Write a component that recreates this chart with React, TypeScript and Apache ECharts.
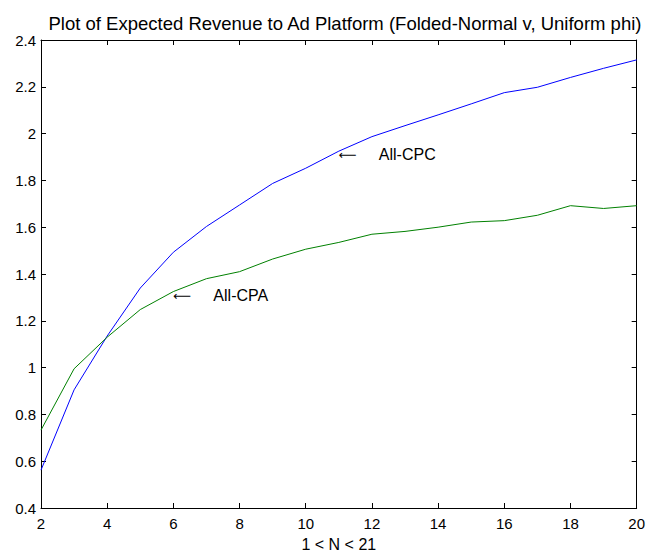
import React, { useEffect, useRef } from "react";
import * as echarts from "echarts";

const titleText = "Plot of Expected Revenue to Ad Platform (Folded-Normal v, Uniform phi)";
const xAxisName = "1 < N < 21";
const nValues = [2, 3, 4, 5, 6, 7, 8, 9, 10, 11, 12, 13, 14, 15, 16, 17, 18, 19, 20];
const allCpc = [0.562, 0.905, 1.135, 1.34, 1.493, 1.603, 1.695, 1.787, 1.852, 1.925, 1.987, 2.034, 2.08, 2.127, 2.175, 2.198, 2.24, 2.279, 2.315];
const allCpa = [0.733, 0.995, 1.13, 1.248, 1.325, 1.38, 1.41, 1.464, 1.506, 1.535, 1.57, 1.582, 1.6, 1.622, 1.628, 1.651, 1.692, 1.68, 1.692];
const cpcLabelAt = [11.0, 1.909];
const cpaLabelAt = [6.0, 1.306];
const cpcLabel = "All-CPC";
const cpaLabel = "All-CPA";

const FONT = "Liberation Sans, Arial, sans-serif";

function annotation(text: string) {
  return {
    show: true,
    position: "right",
    distance: 0,
    formatter: "{a|⟵}{t|" + text + "}",
    rich: {
      a: { fontFamily: "DejaVu Sans, sans-serif", fontSize: 12.5, color: "#000", width: 40 },
      t: { fontFamily: FONT, fontSize: 16, color: "#000" },
    },
  };
}

export default function App() {
  const ref = useRef<HTMLDivElement>(null);
  useEffect(() => {
    document.body.style.margin = "0";
    if (!ref.current) return;
    const chart = echarts.init(ref.current, undefined, { renderer: "svg" });
    const tickStyle = { show: true, inside: true, length: 5, lineStyle: { color: "#000", width: 1 } };
    const lineStyleAxis = { show: true, lineStyle: { color: "#000", width: 1 } };
    chart.setOption({
      animation: false,
      backgroundColor: "#fff",
      title: {
        text: titleText,
        left: 340,
        textAlign: "center",
        top: 9,
        textStyle: { fontFamily: FONT, fontSize: 18.5, fontWeight: "normal", color: "#000" },
      },
      grid: { left: 41, right: 11, top: 40, bottom: 52, containLabel: false },
      xAxis: [
        {
          type: "value",
          min: 2,
          max: 20,
          interval: 2,
          position: "bottom",
          name: xAxisName,
          nameLocation: "middle",
          nameGap: 28,
          nameTextStyle: { fontFamily: FONT, fontSize: 16, color: "#000" },
          axisLine: lineStyleAxis,
          axisTick: tickStyle,
          axisLabel: { fontFamily: FONT, fontSize: 15, color: "#000", margin: 8 },
          splitLine: { show: false },
        },
        {
          type: "value",
          min: 2,
          max: 20,
          interval: 2,
          position: "top",
          axisLine: lineStyleAxis,
          axisTick: tickStyle,
          axisLabel: { show: false },
          splitLine: { show: false },
        },
      ],
      yAxis: [
        {
          type: "value",
          min: 0.4,
          max: 2.4,
          interval: 0.2,
          position: "left",
          axisLine: lineStyleAxis,
          axisTick: tickStyle,
          axisLabel: { fontFamily: FONT, fontSize: 15, color: "#000", margin: 5 },
          splitLine: { show: false },
        },
        {
          type: "value",
          min: 0.4,
          max: 2.4,
          interval: 0.2,
          position: "right",
          axisLine: lineStyleAxis,
          axisTick: tickStyle,
          axisLabel: { show: false },
          splitLine: { show: false },
        },
      ],
      series: [
        {
          name: cpcLabel,
          type: "line",
          data: nValues.map((n, i) => [n, allCpc[i]]),
          showSymbol: false,
          symbol: "none",
          lineStyle: { color: "#0000ff", width: 1 },
          itemStyle: { color: "#0000ff" },
          markPoint: {
            symbol: "circle",
            symbolSize: 0,
            data: [{ coord: cpcLabelAt }],
            label: annotation(cpcLabel),
          },
        },
        {
          name: cpaLabel,
          type: "line",
          data: nValues.map((n, i) => [n, allCpa[i]]),
          showSymbol: false,
          symbol: "none",
          lineStyle: { color: "#008000", width: 1 },
          itemStyle: { color: "#008000" },
          markPoint: {
            symbol: "circle",
            symbolSize: 0,
            data: [{ coord: cpaLabelAt }],
            label: annotation(cpaLabel),
          },
        },
      ],
    });
    return () => chart.dispose();
  }, []);
  return <div ref={ref} style={{ width: 648, height: 560 }} />;
}
